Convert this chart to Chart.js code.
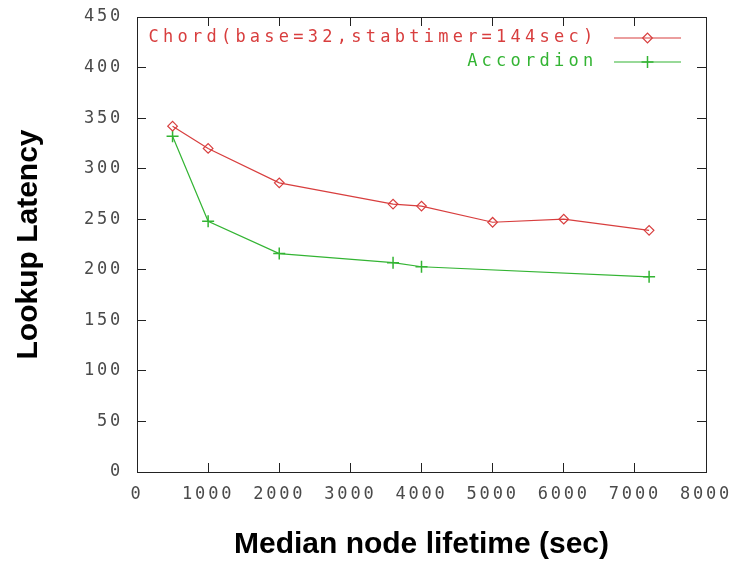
<!DOCTYPE html>
<html>
<head>
<meta charset="utf-8">
<script src="https://cdn.jsdelivr.net/npm/chart.js@4.4.1/dist/chart.umd.min.js"></script>
<style>
html,body{margin:0;padding:0;background:#fff;}
#c{display:block;}
</style>
</head>
<body>
<canvas id="c" width="746" height="561"></canvas>
<script>
// ---- data ----
const chordX = [500, 1000, 2000, 3600, 4000, 5000, 6000, 7200];
const chordY = [342, 320, 286, 265, 263, 247, 250, 239];
const accX = [500, 1000, 2000, 3600, 4000, 7200];
const accY = [332, 248, 216, 207, 203, 193];
const xTickValues = [0, 1000, 2000, 3000, 4000, 5000, 6000, 7000, 8000];
const yTickValues = [0, 50, 100, 150, 200, 250, 300, 350, 400, 450];
const seriesNames = ['Chord(base=32,stabtimer=144sec)', 'Accordion'];
const xTitle = 'Median node lifetime (sec)';
const yTitle = 'Lookup Latency';

// ---- styling ----
const RED = '#d83e3e';
const GREEN = '#33b433';
const AXIS = '#222222';
const TICKTXT = '#4a4a4a';
const MONO = "'DejaVu Sans Mono', 'Liberation Mono', monospace";
const SANS = "'Liberation Sans', Arial, sans-serif";
const FS = 17;
const LS_TICK = 2.8;
const LS_LEG = 4.25;
const LEG_RIGHT = 681;
const LEG_ROW1 = 38;
const LEG_GAP = 8;

const toPts = (xs, ys) => xs.map((x, i) => ({ x: x, y: ys[i] }));
const fixTicks = (vals) => (scale) => { scale.ticks = vals.map(v => ({ value: v })); };
const sizeTo = (prop, val) => (s) => {
  s[prop] = val;
  s.paddingTop = 0; s.paddingBottom = 0; s.paddingLeft = 0; s.paddingRight = 0;
};

const gridOpts = { drawOnChartArea: false, drawTicks: true, tickLength: -9, color: AXIS, lineWidth: 1 };
const borderOpts = { display: true, color: AXIS, width: 1 };

const tweak = {
  id: 'tweak',
  beforeLayout(chart) {
    const lg = chart.legend;
    if (lg && !lg.__w) {
      lg.__w = true;
      const of = lg.fit;
      lg.fit = function () {
        const c = this.ctx; c.save(); c.letterSpacing = LS_LEG + 'px';
        of.call(this);
        c.restore();
      };
      const od = lg.draw;
      lg.draw = function (a) {
        const c = this.ctx;
        const hb = this.legendHitBoxes[0];
        this.__dx = hb ? LEG_RIGHT - (hb.left + hb.width) : 0;
        this.__dy = hb ? LEG_ROW1 - (hb.top + hb.height / 2) : 0;
        c.save();
        c.letterSpacing = LS_LEG + 'px';
        c.translate(this.__dx, this.__dy);
        od.call(this, a);
        c.restore();
      };
    }
    ['x', 'y'].forEach(id => {
      const s = chart.scales[id];
      if (s && !s.__w) {
        s.__w = true;
        const o = s.drawLabels;
        s.drawLabels = function (a) {
          const c = this.ctx; c.save(); c.letterSpacing = LS_TICK + 'px';
          o.call(this, a);
          c.restore();
        };
      }
    });
  },
  afterDraw(chart) {
    const lg = chart.legend;
    if (!lg || !lg.legendHitBoxes) return;
    const ctx = chart.ctx;
    const bw = lg.options.labels.boxWidth;
    lg.legendItems.forEach((it, i) => {
      const hb = lg.legendHitBoxes[i];
      const ds = chart.data.datasets[it.datasetIndex];
      const right = hb.left + hb.width + (lg.__dx || 0);
      const left = right - bw + LEG_GAP;
      const cy = hb.top + hb.height / 2 + (lg.__dy || 0);
      ctx.save();
      ctx.strokeStyle = ds.borderColor;
      ctx.lineWidth = ds.borderWidth;
      ctx.beginPath();
      ctx.moveTo(left, cy); ctx.lineTo(right, cy);
      ctx.stroke();
      const opts = { pointStyle: ds.pointStyle, radius: ds.pointRadius, borderWidth: ds.pointBorderWidth, rotation: 0 };
      ctx.strokeStyle = ds.pointBorderColor;
      ctx.fillStyle = ds.pointBackgroundColor;
      ctx.lineWidth = ds.pointBorderWidth;
      if (Chart.helpers && Chart.helpers.drawPoint) {
        Chart.helpers.drawPoint(ctx, opts, (left + right) / 2, cy);
      }
      ctx.restore();
    });
  }
};

new Chart(document.getElementById('c'), {
  type: 'line',
  data: {
    datasets: [
      {
        label: seriesNames[0],
        data: toPts(chordX, chordY),
        borderColor: RED, borderWidth: 1.2, tension: 0, fill: false,
        pointStyle: 'rectRot', pointRadius: 4.8, pointBorderWidth: 1.2,
        pointBorderColor: RED, pointBackgroundColor: 'rgba(255,255,255,0)'
      },
      {
        label: seriesNames[1],
        data: toPts(accX, accY),
        borderColor: GREEN, borderWidth: 1.2, tension: 0, fill: false,
        pointStyle: 'cross', pointRadius: 6, pointBorderWidth: 1.5,
        pointBorderColor: GREEN, pointBackgroundColor: GREEN
      }
    ]
  },
  options: {
    responsive: false,
    devicePixelRatio: 1,
    animation: false,
    layout: { padding: 0 },
    plugins: {
      tooltip: { enabled: false },
      legend: {
        position: 'chartArea',
        align: 'start',
        rtl: true,
        onClick: null,
        labels: {
          font: { family: MONO, size: FS },
          boxWidth: 75, boxHeight: 1, padding: 7,
          generateLabels: (chart) => chart.data.datasets.map((ds, i) => ({
            text: ds.label, fillStyle: 'rgba(0,0,0,0)', strokeStyle: 'rgba(0,0,0,0)',
            lineWidth: 0, fontColor: ds.borderColor, hidden: false, datasetIndex: i
          }))
        }
      }
    },
    scales: {
      x: {
        type: 'linear', position: 'bottom', min: 0, max: 8000,
        afterBuildTicks: fixTicks(xTickValues),
        afterFit: sizeTo('height', 89),
        ticks: { font: { family: MONO, size: FS }, color: TICKTXT, padding: 21, maxRotation: 0, autoSkip: false, callback: (v) => String(v) },
        grid: gridOpts, border: borderOpts,
        title: { display: true, text: xTitle, color: '#000', font: { family: SANS, size: 30, weight: 'bold', lineHeight: 1.1 }, padding: { top: 0, bottom: 0 } }
      },
      x2: {
        type: 'linear', axis: 'x', position: 'top', min: 0, max: 8000,
        afterBuildTicks: fixTicks(xTickValues),
        afterFit: sizeTo('height', 17),
        ticks: { display: false },
        grid: gridOpts, border: borderOpts
      },
      y: {
        type: 'linear', position: 'left', min: 0, max: 450,
        afterBuildTicks: fixTicks(yTickValues),
        afterFit: sizeTo('width', 137),
        ticks: { font: { family: MONO, size: FS }, color: TICKTXT, padding: 23, autoSkip: false, callback: (v) => String(v) },
        grid: gridOpts, border: borderOpts,
        title: { display: true, text: yTitle, color: '#000', font: { family: SANS, size: 30, weight: 'bold', lineHeight: 1.1 }, padding: { top: 12, bottom: 0 } }
      },
      y2: {
        type: 'linear', axis: 'y', position: 'right', min: 0, max: 450,
        afterBuildTicks: fixTicks(yTickValues),
        afterFit: sizeTo('width', 40),
        ticks: { display: false },
        grid: gridOpts, border: borderOpts
      }
    }
  },
  plugins: [tweak]
});
</script>
</body>
</html>
